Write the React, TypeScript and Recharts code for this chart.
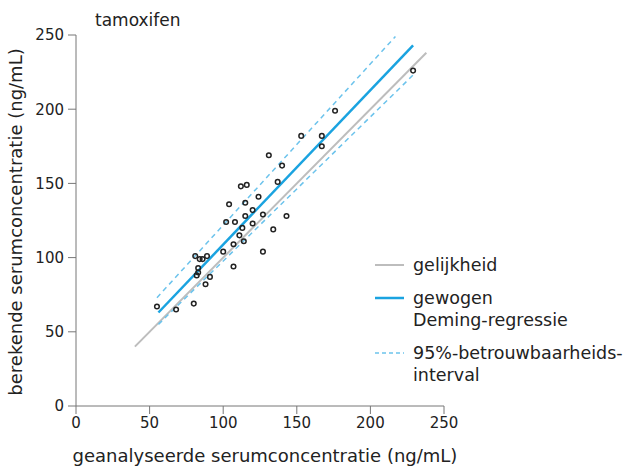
import { ComposedChart, Scatter, Line, XAxis, YAxis } from "recharts";

const FONT = "'DejaVu Sans', sans-serif";

// gemeten punten (geanalyseerd vs berekend)
const measured = [
  { x: 55, y: 67 }, { x: 68, y: 65 }, { x: 80, y: 69 }, { x: 81, y: 101 },
  { x: 84, y: 99 }, { x: 86, y: 99 }, { x: 89, y: 101 }, { x: 83, y: 93 },
  { x: 83, y: 90 }, { x: 82, y: 88 }, { x: 88, y: 82 }, { x: 91, y: 87 },
  { x: 100, y: 104 }, { x: 107, y: 94 }, { x: 107, y: 109 }, { x: 102, y: 124 },
  { x: 108, y: 124 }, { x: 104, y: 136 }, { x: 111, y: 115 }, { x: 113, y: 120 },
  { x: 114, y: 111 }, { x: 115, y: 128 }, { x: 115, y: 137 }, { x: 112, y: 148 },
  { x: 116, y: 149 }, { x: 120, y: 123 }, { x: 120, y: 132 }, { x: 124, y: 141 },
  { x: 127, y: 129 }, { x: 127, y: 104 }, { x: 131, y: 169 }, { x: 134, y: 119 },
  { x: 137, y: 151 }, { x: 140, y: 162 }, { x: 143, y: 128 }, { x: 153, y: 182 },
  { x: 167, y: 182 }, { x: 167, y: 175 }, { x: 176, y: 199 }, { x: 229, y: 226 },
];

const identity = [{ x: 40, y: 40 }, { x: 238, y: 238 }];
const deming = [{ x: 56, y: 63 }, { x: 229, y: 243 }];
const ciUpper = [{ x: 55, y: 73 }, { x: 217, y: 249 }];
const ciLower = [{ x: 56, y: 55 }, { x: 229, y: 223 }];

const ticks = [0, 50, 100, 150, 200, 250];

const legendItems = [
  { label: ["gelijkheid"], color: "#bdbdbd", width: 2, dash: undefined },
  { label: ["gewogen", "Deming-regressie"], color: "#1aa3e0", width: 2.5, dash: undefined },
  { label: ["95%-betrouwbaarheids-", "interval"], color: "#6cc3ec", width: 1.5, dash: "4 3" },
];

function LegendBox() {
  return (
    <div style={{ position: "absolute", left: 374, top: 254, fontFamily: FONT, fontSize: 17.5, color: "#222", lineHeight: "22px" }}>
      {legendItems.map((it, i) => (
        <div key={i} style={{ display: "flex", alignItems: "flex-start", marginBottom: 11 }}>
          <svg width={31} height={22} style={{ marginRight: 8 }}>
            <line x1={1} x2={30} y1={11} y2={11} stroke={it.color} strokeWidth={it.width} strokeDasharray={it.dash} />
          </svg>
          <div>
            {it.label.map((l) => (
              <div key={l}>{l}</div>
            ))}
          </div>
        </div>
      ))}
    </div>
  );
}

export default function App() {
  return (
    <div style={{ position: "absolute", left: 0, top: 0, width: 635, height: 473, background: "#fff" }}>
      <ComposedChart width={635} height={473} margin={{ top: 35, right: 191, bottom: 20, left: 0 }}>
        <XAxis
          type="number"
          dataKey="x"
          domain={[0, 250]}
          ticks={ticks}
          stroke="#777"
          tick={{ fill: "#222", fontSize: 15, fontFamily: FONT }}
          tickSize={8}
          tickMargin={3}
          height={47}
        />
        <YAxis
          type="number"
          dataKey="y"
          domain={[0, 250]}
          ticks={ticks}
          stroke="#777"
          tick={{ fill: "#222", fontSize: 15, fontFamily: FONT }}
          tickSize={8}
          tickMargin={4}
          width={76}
        />
        <Line data={identity} dataKey="y" stroke="#bdbdbd" strokeWidth={2} dot={false} isAnimationActive={false} />
        <Line data={ciUpper} dataKey="y" stroke="#6cc3ec" strokeWidth={1.5} strokeDasharray="5 4" dot={false} isAnimationActive={false} />
        <Line data={ciLower} dataKey="y" stroke="#6cc3ec" strokeWidth={1.5} strokeDasharray="5 4" dot={false} isAnimationActive={false} />
        <Line data={deming} dataKey="y" stroke="#1aa3e0" strokeWidth={2.5} dot={false} isAnimationActive={false} />
        <Scatter data={measured} shape={(p: any) => <circle cx={p.cx} cy={p.cy} r={2.3} fill="none" stroke="#222" strokeWidth={1.5} />} isAnimationActive={false} />
        <text x={95} y={26} fontFamily={FONT} fontSize={17} fill="#222">tamoxifen</text>
        <text x={265} y={462} textAnchor="middle" fontFamily={FONT} fontSize={18} fill="#222">geanalyseerde serumconcentratie (ng/mL)</text>
        <text x={0} y={0} transform="translate(22,222) rotate(-90)" textAnchor="middle" fontFamily={FONT} fontSize={18} fill="#222">berekende serumconcentratie (ng/mL)</text>
      </ComposedChart>
      <LegendBox />
    </div>
  );
}
